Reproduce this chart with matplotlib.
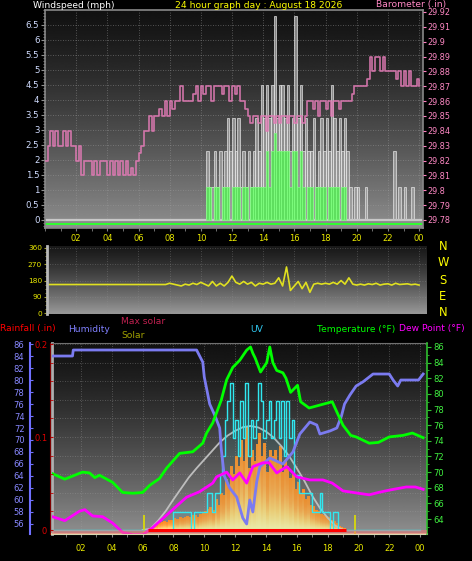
import numpy as np
import matplotlib
matplotlib.use('Agg')
import matplotlib.pyplot as plt
from matplotlib.colors import LinearSegmentedColormap
from matplotlib.ticker import MultipleLocator

plt.rcParams['font.family'] = ['DejaVu Sans']

W, H = 472, 561

# ---------------- data ----------------
hour_ticks = [2, 4, 6, 8, 10, 12, 14, 16, 18, 20, 22, 24]
hour_labels = ['02', '04', '06', '08', '10', '12', '14', '16', '18', '20', '22', '00']

# 10 minute slots
slots = np.arange(144) / 6.0

# wind (mph)
gust_mph = [0] * 62 + [
    2.3, 1.1, 1.1, 2.3, 1.1, 2.3, 1.1, 2.3, 3.4, 2.3,
    3.4, 2.3, 3.4, 1.1, 2.3, 1.1, 2.3, 1.1, 2.3, 3.4,
    2.3, 4.5, 3.4, 4.5, 3.4, 4.5, 6.8, 3.4, 4.5, 4.5,
    3.4, 4.5, 2.3, 3.4, 6.8, 3.4, 4.5, 2.3, 3.4, 2.3,
    2.3, 3.4, 1.1, 2.3, 3.4, 2.3, 3.4, 2.3, 4.5, 3.4,
    2.3, 3.4, 2.3, 3.4, 2.3, 1.1,
    0, 1.1, 1.1, 0, 0, 1.1, 0, 0, 0, 0,
    0, 0, 0, 0, 0, 0, 2.3, 0, 1.1, 0,
    1.1, 0, 0, 1.1, 0, 0]
avg_mph = [0] * 62 + [
    1.1, 1.1, 0, 1.1, 1.1, 0, 1.1, 1.1, 1.1, 0,
    1.1, 1.1, 1.1, 0, 1.1, 1.1, 0, 1.1, 1.1, 1.1,
    1.1, 1.1, 1.1, 2.3, 1.1, 2.3, 2.9, 2.3, 2.3, 2.3,
    2.3, 2.3, 1.1, 2.3, 2.3, 1.1, 2.3, 1.1, 0, 1.1,
    1.1, 0, 1.1, 1.1, 1.1, 1.1, 0, 1.1, 1.1, 1.1,
    1.1, 0, 1.1, 1.1, 0, 0] + [0] * 26

# barometer (in), 10 minute steps 00:00 .. 24:00
baro_in = [
    29.82, 29.83, 29.84, 29.83, 29.84, 29.83, 29.83, 29.84, 29.83, 29.84,
    29.83, 29.83, 29.82, 29.83, 29.81, 29.82, 29.82, 29.82, 29.81, 29.82,
    29.81, 29.82, 29.82, 29.82, 29.81, 29.82, 29.81, 29.82, 29.81, 29.82,
    29.81, 29.82, 29.81, 29.815, 29.81, 29.82, 29.825, 29.83, 29.84, 29.84,
    29.85, 29.84, 29.85, 29.85, 29.855, 29.85, 29.86, 29.85, 29.86, 29.855,
    29.86, 29.86, 29.87, 29.86, 29.86, 29.86, 29.86, 29.865, 29.87, 29.86,
    29.87, 29.865, 29.87, 29.87, 29.86, 29.87, 29.87, 29.87, 29.865, 29.87,
    29.87, 29.86, 29.87, 29.865, 29.87, 29.86, 29.86, 29.855, 29.85, 29.845,
    29.85, 29.85, 29.845, 29.85, 29.85, 29.84, 29.85, 29.85, 29.845, 29.85,
    29.845, 29.85, 29.85, 29.845, 29.85, 29.85, 29.845, 29.85, 29.85, 29.845,
    29.85, 29.86, 29.86, 29.855, 29.86, 29.85, 29.86, 29.86, 29.855, 29.86,
    29.85, 29.86, 29.86, 29.855, 29.86, 29.86, 29.86, 29.86, 29.865, 29.87,
    29.87, 29.87, 29.87, 29.87, 29.875, 29.89, 29.88, 29.89, 29.89, 29.88,
    29.89, 29.88, 29.88, 29.88, 29.88, 29.875, 29.88, 29.87, 29.88, 29.87,
    29.88, 29.87, 29.87, 29.875, 29.87]

# wind direction (deg), 15 minute steps
wdir_deg = [158] * 32 + [
    165, 160, 155, 150, 160, 155, 165, 158, 170, 160,
    150, 175, 150, 165, 150, 170, 205, 170, 160, 175,
    160, 170, 150, 165, 160, 170, 160, 165, 195, 150,
    255, 125, 150, 175, 135, 170, 115, 160, 165, 160,
    165, 160, 170, 160, 180, 160, 195, 160, 155, 160,
    155, 162, 158, 165, 155, 160, 162, 155, 165, 158,
    160, 162, 157, 160, 155]

# humidity (%)
hum_t = [0.1, 1.45, 1.5, 9.5, 9.7, 9.9, 10.0, 10.35, 10.7, 11.0, 11.1, 11.3, 11.65,
         12.1, 12.5, 12.75, 12.95, 13.15, 13.4, 13.6, 14.25, 15.1, 15.75, 16.2, 16.85,
         17.3, 17.5, 18.15, 18.6, 18.9, 19.1, 19.45, 19.85, 20.3, 20.7, 20.95, 22.0,
         22.25, 22.55, 22.75, 23.9, 24.2]
hum_v = [84, 84, 85, 85, 84, 83, 80.5, 76, 74, 72, 68.5, 64, 62,
         60.5, 57, 56, 60, 58, 63, 65.5, 67, 66, 68, 71, 73,
         72.5, 71, 71.5, 72, 74, 76, 77.5, 79, 79.7, 80.5, 81, 81,
         80, 79, 80, 80, 81]

# temperature / dew point (F)
temp_t = [0.15, 0.95, 2.1, 2.55, 2.9, 3.2, 4.05, 4.7, 5.35, 6.0, 6.45, 7.1, 7.55,
          8.4, 9.25, 9.9, 10.15, 10.55, 11.1, 11.45, 11.85, 12.3, 12.75, 13.0, 13.15,
          13.3, 13.65, 14.05, 14.25, 14.45, 14.7, 15.1, 15.3, 15.6, 16.05, 16.25,
          16.8, 17.55, 18.3, 18.6, 19.0, 19.5, 19.85, 20.7, 21.3, 22.0, 22.9, 23.5, 24.2]
temp_v = [69.8, 69.1, 70, 69.9, 69.3, 69.6, 68.7, 67.4, 67.3, 67.4, 68.3, 69.2, 70.5,
          72.4, 72.6, 73.7, 75, 76.3, 79.2, 81.8, 83.4, 84.3, 85.6, 86, 85.2,
          84.6, 82.8, 84, 86, 84, 83, 82.7, 82, 80.2, 81.1, 79,
          78.2, 78.6, 79, 77.7, 76, 74.7, 74.5, 73.7, 73.8, 74.5, 74.7, 75, 74.4]
dew_t = [0.15, 0.95, 1.9, 2.25, 2.75, 3.4, 4.05, 4.7, 5.35, 6.0, 6.65, 7.95, 8.85,
         9.7, 10.55, 10.8, 11.45, 11.85, 12.3, 12.75, 13.15, 13.8, 14.2, 14.7, 15.35,
         16.0, 16.85, 17.7, 18.3, 19.0, 20.0, 20.7, 21.3, 22.0, 23.1, 23.7, 24.2]
dew_v = [64.3, 63.8, 65, 65.2, 64.4, 64.3, 63.5, 62.3, 62.0, 62.0, 62.9, 65.2, 66.8,
         67.5, 68.6, 69.4, 70, 69, 69.9, 68.6, 70.7, 71.2, 71.2, 69.9, 70.7,
         69.4, 69, 69, 68.6, 67.6, 67.3, 67.1, 67.4, 67.7, 68.1, 68.1, 67.8]

# solar (W/m2) per 10 min
solar_wm2 = [0] * 38 + [
    5, 15, 25, 40, 50, 60, 70, 65, 80, 75,
    90, 85, 100, 95, 100, 110, 100, 115, 120, 105,
    130, 140, 150, 170, 180, 160, 250, 200, 300, 280,
    410, 350, 515, 450, 600, 520, 735, 560, 840, 500,
    650, 560, 700, 790, 600, 710, 466, 650, 600, 650,
    560, 680, 470, 570, 515, 420, 466, 327, 385, 300,
    327, 250, 270, 200, 190, 160, 150, 130, 120, 110,
    100, 80, 70, 50, 30, 20, 10, 0] + [0] * 28
maxsol_t = [6.0, 6.5, 7.0, 7.5, 8.0, 8.5, 9.0, 9.5, 10.0, 10.5, 11.0, 11.5, 12.0, 12.5,
            13.0, 13.5, 14.0, 14.5, 15.0, 15.5, 16.0, 16.5, 17.0, 17.5, 18.0, 18.5, 19.0]
maxsol_v = [0, 10, 75, 155, 250, 340, 430, 505, 575, 645, 715, 770, 810, 840,
            850, 838, 805, 755, 685, 605, 505, 400, 280, 180, 100, 35, 0]
sun_events = [6.1, 19.8]  # sunrise, sunset

# UV index per 10 min
uv_index = [0] * 47 + [
    0, 1, 1, 1, 1, 1, 1, 1, 0, 1,
    1, 1, 1, 1, 2, 2, 1, 2, 2, 3,
    4, 6, 7, 8, 5, 6, 4, 7, 5, 8,
    4, 6, 5, 6, 8, 7, 5, 6, 7, 5,
    6, 7, 5, 7, 4, 7, 5, 6, 3, 3,
    2, 2, 2, 2, 2, 1, 1, 1, 2, 1,
    1, 1, 0, 1, 1, 0] + [0] * 31

rain_in = [0.0] * 144

# ---------------- drawing ----------------
gust = np.array(gust_mph)
avg = np.array(avg_mph)
solar = np.array(solar_wm2, dtype=float)
uv = np.array(uv_index, dtype=float)

fig = plt.figure(figsize=(W / 100, H / 100), dpi=100, facecolor='black')


def box(l, t, r, b):
    return [l / W, 1 - b / H, (r - l) / W, (b - t) / H]


def backdrop(ax, top, bottom):
    g = np.linspace(0, 1, 256)[:, None]
    shade = top + (bottom - top) * g ** 1.3
    ax.imshow(shade, cmap='gray', vmin=0, vmax=1, aspect='auto', extent=(0, 1, 0, 1),
              transform=ax.transAxes, zorder=-5, interpolation='bilinear')


def hide(ax):
    for s in ax.spines.values():
        s.set_visible(False)


dots = (0, (1, 2))
small = 6

# --- top panel: wind + barometer
ax_w = fig.add_axes(box(45, 10, 423, 228))
ax_w.set_facecolor('black')
backdrop(ax_w, 0.07, 0.56)
ax_w.bar(slots[gust > 0], gust[gust > 0], width=1 / 6, align='edge', color='#a8a8a8',
         alpha=0.75, edgecolor='#f0f0f0', linewidth=0.6, zorder=2)
ax_w.bar(slots[avg > 0], avg[avg > 0], width=1 / 6, align='edge', color='#50f050',
         alpha=0.8, edgecolor='#80ff80', linewidth=0.6, zorder=3)
ax_w.axhline(0, color='#c8c8c8', lw=1.6, zorder=2)
ax_w.axhline(-0.12, color='#30ff30', lw=1.4, zorder=2)
ax_w.set_xticks(hour_ticks, hour_labels)
ax_w.xaxis.set_minor_locator(MultipleLocator(1))
wticks = np.arange(0, 6.6, 0.5)
ax_w.set_yticks(wticks, ['%g' % v for v in wticks])
ax_w.yaxis.set_minor_locator(MultipleLocator(0.1))
ax_w.tick_params(axis='x', which='both', colors='#808080', labelcolor='#e8e800',
                 labelsize=small, length=2.5, pad=1.5)
ax_w.tick_params(axis='y', which='major', colors='#909090', labelcolor='#d0dcff',
                 labelsize=6.2, length=3, pad=1)
ax_w.tick_params(axis='y', which='minor', colors='#909090', length=1.5)
ax_w.grid(True, which='major', color='#a0a0a0', lw=0.6, ls=dots, alpha=0.6)
for s in ax_w.spines.values():
    s.set_color('#888888')
    s.set_linewidth(1.2)

ax_p = ax_w.twinx()
hide(ax_p)
baro_t = np.arange(len(baro_in)) / 6.0
ax_p.step(baro_t, baro_in, where='post', color='#e07ab4', lw=1.2, alpha=0.9)
ax_p.set_ylim(29.7746, 29.9213)
bticks = np.round(np.arange(29.78, 29.925, 0.01), 2)
ax_p.set_yticks(bticks, ['%g' % v for v in bticks])
ax_p.tick_params(axis='y', colors='#ff80c0', labelcolor='#ff88c4', labelsize=5.9,
                 length=2.5, pad=1)
ax_w.set_xlim(0, 24.25)
ax_w.set_ylim(-0.27, 7.0)

# --- wind direction panel
ax_d = fig.add_axes(box(47, 246, 427, 314))
backdrop(ax_d, 0.1, 0.6)
wdir_t = np.arange(len(wdir_deg)) / 4.0
ax_d.plot(wdir_t, wdir_deg, color='#e0e020', lw=1.2)
ax_d.set_yticks([0, 90, 180, 270, 360])
ax_d.yaxis.set_minor_locator(MultipleLocator(22.5))
ax_d.set_xticks(hour_ticks)
ax_d.tick_params(axis='x', bottom=False, labelbottom=False)
ax_d.tick_params(axis='y', which='both', colors='#a0a030', labelcolor='#e8e800',
                 labelsize=5.3, length=2.5, pad=1)
ax_d.tick_params(axis='y', which='minor', length=1.5)
ax_d.grid(True, color='#909090', lw=0.6, ls=dots, alpha=0.5)
hide(ax_d)
ax_d.spines['left'].set_visible(True)
ax_d.spines['left'].set_color('#b8b8b8')
ax_d.spines['left'].set_linewidth(2)
ax_d.set_xlim(0.14, 24.51)
ax_d.set_ylim(-5, 371)

for letter, y in zip(['N', 'W', 'S', 'E', 'N'], [246, 263, 281, 297, 313]):
    fig.text(443 / W, 1 - y / H, letter, color='#ffff00', fontsize=8.3,
             ha='center', va='center')

# --- bottom panel
rain_lim = (-0.0043, 0.2011)
ax_b = fig.add_axes(box(52, 343, 427, 534))
backdrop(ax_b, 0.07, 0.56)
ax_b.set_ylim(*rain_lim)
ax_b.set_yticks(np.arange(0, 0.201, 0.02))
ax_b.tick_params(axis='y', left=False, labelleft=False)
ax_b.set_xticks(hour_ticks, hour_labels)
ax_b.xaxis.set_minor_locator(MultipleLocator(1))
ax_b.tick_params(axis='x', which='both', colors='#909090', labelcolor='#e8e800',
                 labelsize=small, length=2, pad=5.5)
ax_b.grid(True, color='#a0a0a0', lw=0.6, ls=dots, alpha=0.5)
ax_b.spines['left'].set_color('#b0b0b0')
ax_b.spines['left'].set_linewidth(2)
ax_b.spines['bottom'].set_color('#d8d8b0')
ax_b.spines['bottom'].set_linewidth(1.5)
ax_b.spines['top'].set_color('#707070')
ax_b.spines['right'].set_visible(False)

# solar: each 10 minute bar shaded yellow (bottom) to orange (top)
ax_sol = ax_b.twinx()
hide(ax_sol)
ax_sol.yaxis.set_visible(False)
sol_cmap = LinearSegmentedColormap.from_list(
    'sol', ['#fff2a8', '#ffd070', '#ffa848', '#ff9430', '#ff8a20'])
shade = np.linspace(0, 1, 64)[:, None]
for t, v in zip(slots[solar > 0], solar[solar > 0]):
    ax_sol.imshow(shade, cmap=sol_cmap, origin='lower', aspect='auto',
                  extent=(t, t + 1 / 6, 0, v), zorder=1, interpolation='bilinear')
ax_sol.plot(maxsol_t, maxsol_v, color='#c8c8c8', lw=1.3, alpha=0.9, zorder=2)
ax_sol.vlines(sun_events, -33, 120, colors='#e0e000', lw=1.2, zorder=3)
ax_sol.set_ylim(-32.7, 1528)

# UV
ax_uv = ax_b.twinx()
hide(ax_uv)
ax_uv.yaxis.set_visible(False)
uv_edges = np.append(slots, 24.0)
uv_steps = np.append(uv, 0)
ax_uv.fill_between(uv_edges, uv_steps, step='post', color='#30b8c0', alpha=0.1, lw=0)
ax_uv.step(uv_edges, uv_steps, where='post', color='#30e8f0', lw=1.0)
ax_uv.set_ylim(-0.217, 10.16)

# humidity
ax_hum = ax_b.twinx()
hide(ax_hum)
ax_hum.plot(hum_t, hum_v, color='#7b7bf0', lw=2.0)
ax_hum.yaxis.tick_left()
ax_hum.spines['left'].set_visible(True)
ax_hum.spines['left'].set_position(('outward', 22 * 0.72))
ax_hum.spines['left'].set_color('#7070ff')
ax_hum.spines['left'].set_linewidth(1.5)
ax_hum.set_yticks(np.arange(56, 87, 2))
ax_hum.tick_params(axis='y', direction='in', colors='#7070ff', labelcolor='#8888ff',
                   labelsize=small, length=2.5, pad=4)
ax_hum.set_ylim(54.33, 86.17)

# temperature and dew point
ax_t = ax_b.twinx()
hide(ax_t)
ax_t.plot(dew_t, dew_v, color='#ff00ff', lw=2.0)
ax_t.plot(temp_t, temp_v, color='#00ff00', lw=2.0)
ax_t.spines['right'].set_visible(True)
ax_t.spines['right'].set_color('#30c030')
ax_t.spines['right'].set_linewidth(1.2)
ax_t.set_yticks(np.arange(64, 87, 2))
ax_t.yaxis.set_minor_locator(MultipleLocator(1))
ax_t.tick_params(axis='y', which='major', colors='#30c030', labelcolor='#40f040',
                 labelsize=small, length=3, pad=1.5)
ax_t.tick_params(axis='y', which='minor', colors='#30c030', length=1.5)
ax_t.set_ylim(62.09, 86.51)

# rain
ax_rain = ax_b.twinx()
hide(ax_rain)
ax_rain.axhspan(rain_lim[0], 0.0, color='#f07070', alpha=0.55, lw=0)
day = slots[solar > 0]
ax_rain.hlines(rain_in[0], day[0], day[-1] + 1 / 6, colors='#ff0000', lw=2.2)
ax_rain.yaxis.tick_left()
ax_rain.spines['left'].set_visible(True)
ax_rain.spines['left'].set_position(('outward', 2 * 0.72))
ax_rain.spines['left'].set_color('#800000')
ax_rain.set_yticks([0, 0.1, 0.2], ['0', '0.1', '0.2'])
ax_rain.yaxis.set_minor_locator(MultipleLocator(0.02))
ax_rain.tick_params(axis='y', which='both', direction='in', colors='#c00000',
                    labelcolor='#dd0000', labelsize=small, length=2, pad=2)
ax_rain.set_ylim(*rain_lim)

ax_b.set_xlim(0.12, 24.45)

# ---------------- titles ----------------
def label(x, y, s, c):
    fig.text(x / W, 1 - y / H, s, color=c, fontsize=6.6, ha='left', va='center')


label(33, 5, 'Windspeed (mph)', '#ffffff')
label(175, 5, '24 hour graph day : August 18 2026', '#ffff00')
label(376, 4.5, 'Barometer (.in)', '#ff88c4')
label(0, 329, 'Rainfall (.in)', '#ff0000')
label(68, 329, 'Humidity', '#8080ff')
label(121, 322, 'Max solar', '#c02050')
label(121, 335, 'Solar', '#a0a000')
label(250, 329, 'UV', '#30c8f0')
label(317, 329, 'Temperature (\u00b0F)', '#00ff00')
label(399, 329, 'Dew Point (\u00b0F)', '#ff00ff')

fig.savefig('out.png', dpi=100, facecolor='black')
